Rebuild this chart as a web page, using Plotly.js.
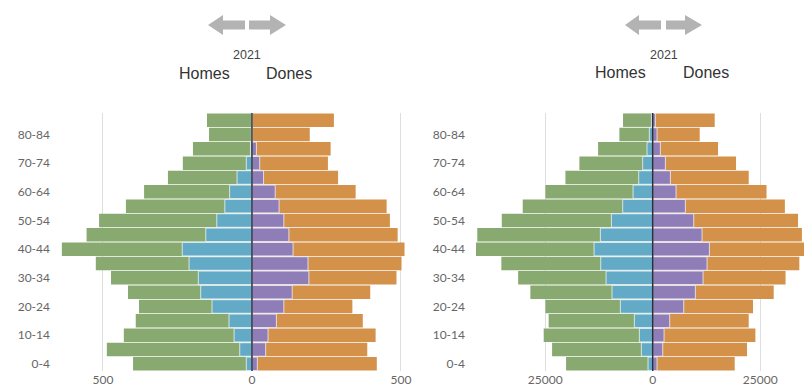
<!DOCTYPE html>
<html><head><meta charset="utf-8">
<script src="https://cdn.plot.ly/plotly-3.0.1.min.js"></script>
<style>html,body{margin:0;padding:0;background:#fff}#chart{width:804px;height:390px}</style>
</head><body><div id="chart"></div>
<script>
// Age groups, bottom to top
const ages = ['0-4','5-9','10-14','15-19','20-24','25-29','30-34','35-39','40-44','45-49','50-54','55-59','60-64','65-69','70-74','75-79','80-84','85+'];
const ageTicks = ['0-4','10-14','20-24','30-34','40-44','50-54','60-64','70-74','80-84'];

// Left pyramid
const homesTotalA = [399, 487, 430, 390, 379, 416, 473, 524, 638, 555, 513, 423, 362, 282, 232, 198, 144, 151];
const homesSubA   = [19, 41, 60, 77, 134, 172, 180, 211, 234, 155, 118, 91, 75, 50, 19, 5, 2, 0];
const donesTotalA = [419, 387, 415, 372, 337, 397, 485, 502, 512, 489, 463, 452, 348, 289, 255, 264, 194, 275];
const donesSubA   = [18, 46, 54, 82, 107, 135, 191, 188, 138, 124, 107, 91, 78, 39, 26, 15, 2, 1];

// Right pyramid
const homesTotalB = [20150, 23400, 25350, 24200, 24950, 28450, 31300, 35200, 41100, 40800, 35100, 30230, 24950, 20300, 17050, 12700, 7750, 6900];
const homesSubB   = [1090, 2640, 3100, 4260, 7520, 9460, 10850, 12090, 13640, 12170, 9600, 6980, 4570, 3260, 2330, 1320, 780, 300];
const donesTotalB = [19070, 21930, 23880, 22330, 23330, 28140, 30900, 34100, 35300, 34700, 33800, 30740, 26470, 22330, 19380, 15190, 10930, 14420];
const donesSubB   = [1010, 2330, 2640, 3950, 7210, 9920, 11710, 12640, 13180, 11470, 9540, 7600, 5430, 4110, 2950, 1780, 1010, 620];

const xTicksA = [-500, 0, 500], xTextA = ['500', '0', '500'];
const xTicksB = [-25000, 0, 25000], xTextB = ['25000', '0', '25000'];

const W = 804, H = 390;
const px = x => x / W, py = y => 1 - y / H;
const C = {green:'#88a970', orange:'#d4914a', blue:'#63aac6', purple:'#8e7db7'};

function bar(vals, sign, color, xa, ya, inner) {
  return {type:'bar', orientation:'h', y:ages, x:vals.map(v => sign * v), xaxis:xa, yaxis:ya,
    marker:{color:color, line:{width: inner ? 1 : 0, color:'rgba(255,255,255,0.7)'}},
    hoverinfo:'skip', showlegend:false};
}
const data = [
  bar(homesTotalA, -1, C.green, 'x', 'y', false),
  bar(donesTotalA, 1, C.orange, 'x', 'y', false),
  bar(homesSubA, -1, C.blue, 'x', 'y', true),
  bar(donesSubA, 1, C.purple, 'x', 'y', true),
  bar(homesTotalB, -1, C.green, 'x2', 'y2', false),
  bar(donesTotalB, 1, C.orange, 'x2', 'y2', false),
  bar(homesSubB, -1, C.blue, 'x2', 'y2', true),
  bar(donesSubB, 1, C.purple, 'x2', 'y2', true)
];

const tickFont = {family:'Lato, sans-serif', size:12, color:'#666'};
const yDom = [(H - 371) / H, (H - 113) / H];
function xax(dom, range, tv, tt, anchor) {
  return {domain:dom, range:range, tickvals:tv, ticktext:tt, showgrid:true, gridcolor:'#dedede', gridwidth:1,
    zeroline:false, showline:false, ticks:'', tickfont:tickFont, anchor:anchor, fixedrange:true};
}
function yax(anchor) {
  return {domain:yDom, type:'category', categoryorder:'array', categoryarray:ages, tickvals:ageTicks,
    showgrid:false, zeroline:false, showline:false, ticks:'', tickfont:tickFont, anchor:anchor,
    ticklabelstandoff:4, fixedrange:true};
}

function arrows(lt, lh, ls, rs, rh, rt, cy) {
  const s = 4.5, h = 10;
  const P = (x, y) => px(x) + ',' + py(y);
  const left = 'M' + P(lt, cy) + ' L' + P(lh, cy - h) + ' L' + P(lh, cy - s) + ' L' + P(ls, cy - s) +
    ' L' + P(ls, cy + s) + ' L' + P(lh, cy + s) + ' L' + P(lh, cy + h) + ' Z';
  const right = 'M' + P(rt, cy) + ' L' + P(rh, cy - h) + ' L' + P(rh, cy - s) + ' L' + P(rs, cy - s) +
    ' L' + P(rs, cy + s) + ' L' + P(rh, cy + s) + ' L' + P(rh, cy + h) + ' Z';
  return [left, right].map(p => ({type:'path', xref:'paper', yref:'paper', path:p,
    fillcolor:'#b3b3b3', line:{width:0}}));
}

const shapes = [
  {type:'line', xref:'x', yref:'y domain', x0:0, x1:0, y0:0, y1:1, line:{color:'#2c2e3c', width:1.5}, layer:'above'},
  {type:'line', xref:'x2', yref:'y2 domain', x0:0, x1:0, y0:0, y1:1, line:{color:'#2c2e3c', width:1.5}, layer:'above'},
  ...arrows(208, 223, 245, 249, 270, 286, 25),
  ...arrows(625, 639, 661, 666, 685, 702, 25)
];

function txt(t, x, y, size, color) {
  return {text:t, x:px(x), y:py(y), xref:'paper', yref:'paper', showarrow:false,
    xanchor:'center', yanchor:'middle', font:{family:'Liberation Sans, Arial, sans-serif', size:size, color:color}};
}
const annotations = [
  txt('2021', 247, 55, 12.5, '#444'), txt('Homes', 204, 73, 16, '#333'), txt('Dones', 289, 73, 16, '#333'),
  txt('2021', 664, 55, 12.5, '#444'), txt('Homes', 620, 72, 16, '#333'), txt('Dones', 706, 72, 16, '#333')
];

const layout = {
  width:W, height:H, margin:{l:0, r:0, t:0, b:0}, paper_bgcolor:'#fff', plot_bgcolor:'#fff',
  barmode:'overlay', bargap:0.06, showlegend:false,
  xaxis: xax([55 / W, 406 / W], [-661, 517], xTicksA, xTextA, 'y'),
  yaxis: yax('x'),
  xaxis2: xax([470 / W, 1], [-42490, 35186], xTicksB, xTextB, 'y2'),
  yaxis2: yax('x2'),
  shapes: shapes, annotations: annotations
};
Plotly.newPlot('chart', data, layout, {displayModeBar:false, staticPlot:true});
</script></body></html>
